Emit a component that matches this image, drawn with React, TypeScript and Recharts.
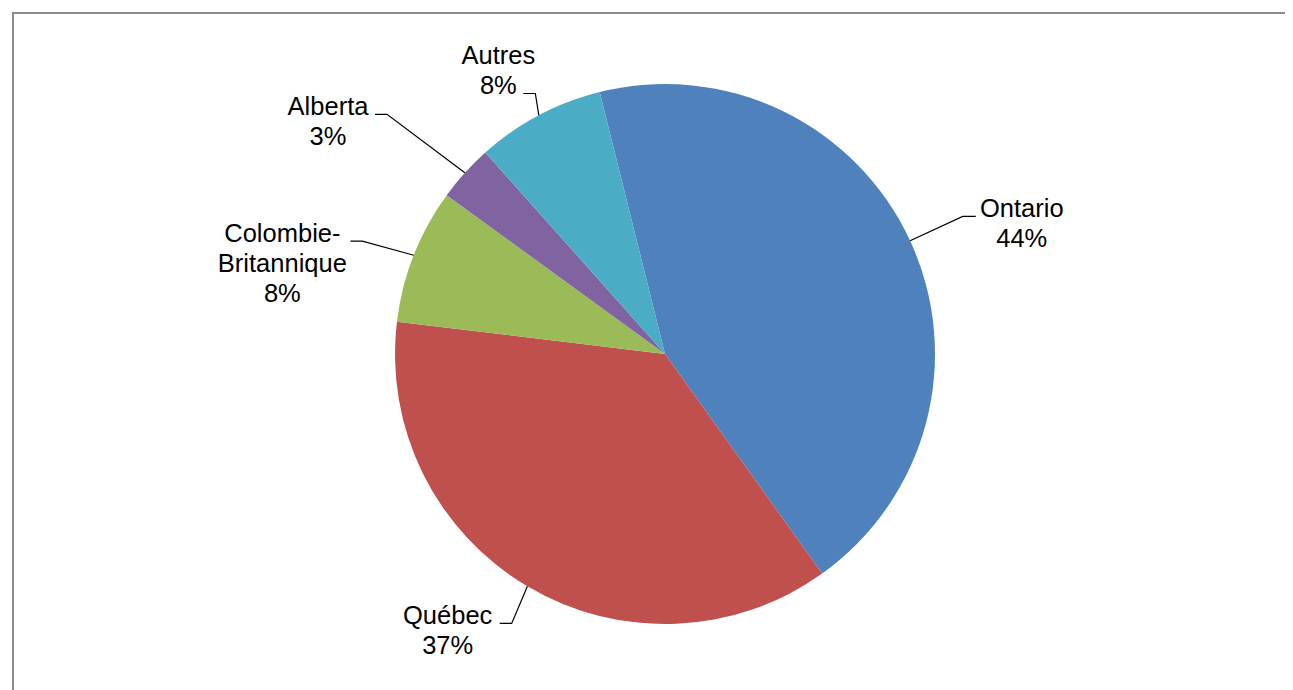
import { PieChart, Pie, Cell } from 'recharts';

const provinces = ['Ontario', 'Québec', 'Colombie-\nBritannique', 'Alberta', 'Autres'];
const shares = [44, 36.8, 8.1, 3.4, 7.7];
const COLORS = ['#4f81bd', '#c0504d', '#9bbb59', '#8064a2', '#4bacc6'];

// label placement: leader length past the edge, small turn of the elbow
// (degrees, clockwise), offset of the text block centre from the stub end,
// and which text line sits on the stub
const LABEL_EXT = [58, 40, 53, 97, 21];
const LABEL_TURN = [0, -1, -1, -1.4, 1.4];
const LABEL_DX = [46, -52, -68, -47, -25];
const LABEL_LINE = [0, 0, 0, 0, 1];

const RAD = Math.PI / 180;
const LINE_H = 30;

const data = provinces.map((name, i) => ({ name, value: shares[i] }));

function renderLabel(props: any) {
  const { cx, cy, midAngle, outerRadius, percent, index, name } = props;
  const sx = cx + outerRadius * Math.cos(-midAngle * RAD);
  const sy = cy + outerRadius * Math.sin(-midAngle * RAD);
  const a = midAngle - LABEL_TURN[index];
  const r2 = outerRadius + LABEL_EXT[index];
  const ex = cx + r2 * Math.cos(-a * RAD);
  const ey = cy + r2 * Math.sin(-a * RAD);
  const right = ex >= cx;
  const tx = ex + (right ? 13 : -12);
  const lines = [...String(name).split('\n'), `${Math.round(percent * 100)}%`];
  const firstBaseline = ey + 1 - LABEL_LINE[index] * LINE_H;
  const centreX = tx + LABEL_DX[index];
  return (
    <g key={`lbl-${index}`}>
      <polyline
        points={`${sx},${sy} ${ex},${ey} ${tx},${ey}`}
        fill="none"
        stroke="#000"
        strokeWidth={1.2}
      />
      <text
        x={centreX}
        y={firstBaseline}
        textAnchor="middle"
        fill="#000"
        fontSize={25.5}
        fontFamily="'Liberation Sans', Arial, sans-serif"
      >
        {lines.map((l, i) => (
          <tspan key={i} x={centreX} y={firstBaseline + i * LINE_H}>
            {l}
          </tspan>
        ))}
      </text>
    </g>
  );
}

export default function App() {
  return (
    <div style={{ position: 'relative', width: 1285, height: 682, overflow: 'hidden', background: '#fff' }}>
      <div
        style={{
          position: 'absolute',
          left: 4,
          top: 4,
          width: 1400,
          height: 800,
          borderTop: '2px solid #8c8c8c',
          borderLeft: '2px solid #8c8c8c',
        }}
      />
      <div style={{ position: 'absolute', left: 0, top: 0 }}>
        <PieChart width={1285} height={682} margin={{ top: 0, right: 0, bottom: 0, left: 0 }}>
          <Pie
            data={data}
            dataKey="value"
            nameKey="name"
            cx={657}
            cy={346}
            outerRadius={270}
            startAngle={104}
            endAngle={-256}
            stroke="none"
            label={renderLabel}
            labelLine={false}
            isAnimationActive={false}
          >
            {data.map((_d, i) => (
              <Cell key={i} fill={COLORS[i]} />
            ))}
          </Pie>
        </PieChart>
      </div>
    </div>
  );
}
